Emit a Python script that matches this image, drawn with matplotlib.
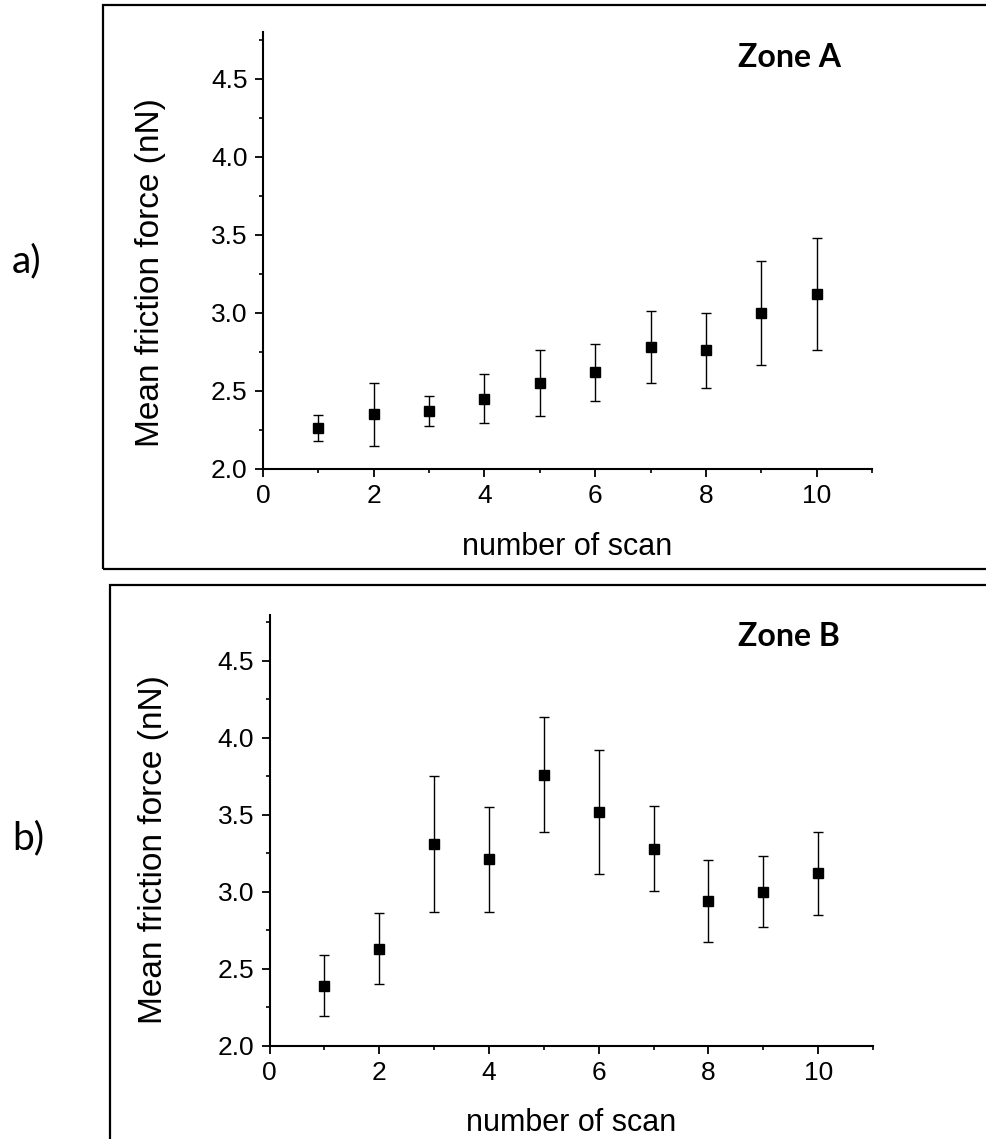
import numpy as np
import matplotlib
matplotlib.use("Agg")
import matplotlib.pyplot as plt
from matplotlib.patches import Rectangle
from matplotlib.ticker import MultipleLocator, FormatStrFormatter

plt.rcParams["font.family"] = ["Liberation Sans", "DejaVu Sans"]

# data
scan = [1, 2, 3, 4, 5, 6, 7, 8, 9, 10]

zone_a_mean = [2.26, 2.35, 2.37, 2.45, 2.55, 2.62, 2.78, 2.76, 3.00, 3.12]
zone_a_err = [0.083, 0.20, 0.097, 0.157, 0.21, 0.184, 0.23, 0.24, 0.334, 0.36]

zone_b_mean = [2.39, 2.63, 3.31, 3.21, 3.76, 3.52, 3.28, 2.94, 3.00, 3.12]
zone_b_err = [0.20, 0.233, 0.443, 0.34, 0.373, 0.403, 0.278, 0.268, 0.232, 0.27]

W, H = 986, 1139


def fx(px):
    return px / W


def fy(py):
    return 1 - py / H


def panel(fig, rect, mean, err, zone, ylab_x, ylab_y, xlab_y, zone_xy):
    ax = fig.add_axes(rect)
    ax.errorbar(scan, mean, yerr=err, fmt="s", color="black", ms=7,
                capsize=3.3, elinewidth=1.0, capthick=1.0)
    ax.set_xlim(0, 11)
    ax.set_ylim(2.0, 4.8)
    ax.xaxis.set_major_locator(MultipleLocator(2))
    ax.xaxis.set_minor_locator(MultipleLocator(1))
    ax.yaxis.set_major_locator(MultipleLocator(0.5))
    ax.yaxis.set_minor_locator(MultipleLocator(0.25))
    ax.yaxis.set_major_formatter(FormatStrFormatter("%.1f"))
    for s in ("top", "right"):
        ax.spines[s].set_visible(False)
    for s in ("left", "bottom"):
        ax.spines[s].set_linewidth(1.5)
    ax.tick_params(which="major", direction="out", length=6, width=1.3,
                   labelsize=19, pad=5)
    ax.tick_params(which="minor", direction="out", length=3, width=1.2)

    ax.set_ylabel("Mean friction force (nN)", fontsize=24)
    ax.yaxis.set_label_coords(ylab_x, ylab_y)
    ax.set_xlabel("number of scan", fontsize=22)
    ax.xaxis.label.set_va("baseline")
    ax.xaxis.set_label_coords(0.5, xlab_y)

    ax.text(zone_xy[0], zone_xy[1], zone, transform=ax.transAxes,
            ha="center", va="baseline", fontsize=23, fontweight="bold",
            family=["Lato", "DejaVu Sans"])
    return ax


fig = plt.figure(figsize=(W / 100, H / 100), dpi=100)

# frames around the panels
fig.patches.append(Rectangle((fx(103), fy(569)), 1.0, fy(5) - fy(569),
                             transform=fig.transFigure, fill=False,
                             lw=1.6, ec="black"))
fig.patches.append(Rectangle((fx(110), -0.05), 1.0, fy(585) + 0.05,
                             transform=fig.transFigure, fill=False,
                             lw=1.6, ec="black"))

top_rect = [fx(263), fy(469), fx(872) - fx(263), fy(32) - fy(469)]
bot_rect = [fx(269.5), fy(1045.6), fx(873) - fx(269.5), fy(614.6) - fy(1045.6)]

panel(fig, top_rect, zone_a_mean, zone_a_err, "Zone A",
      -0.16, 0.45, -0.197, (0.865, 0.92))
panel(fig, bot_rect, zone_b_mean, zone_b_err, "Zone B",
      -0.167, 0.454, -0.198, (0.861, 0.927))

fig.text(fx(12), fy(272), "a)", fontsize=28, family=["Lato", "DejaVu Sans"],
         ha="left", va="baseline")
fig.text(fx(12), fy(849), "b)", fontsize=28, family=["Lato", "DejaVu Sans"],
         ha="left", va="baseline")

fig.savefig("out.png", dpi=100)
plt.close(fig)
